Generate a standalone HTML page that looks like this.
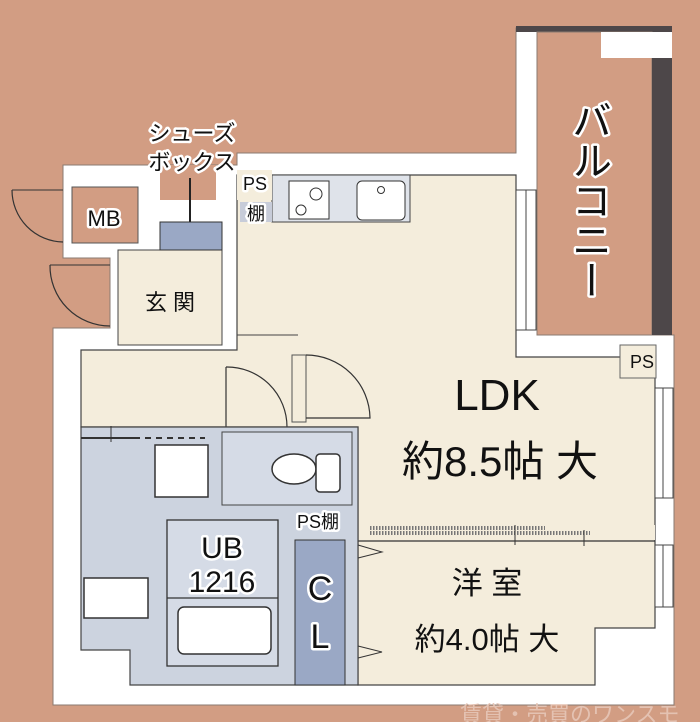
<!DOCTYPE html>
<html><head><meta charset="utf-8"><style>
html,body{margin:0;padding:0;background:#d29d83;}
svg{display:block}
text{font-family:"Liberation Sans","Noto Sans CJK JP",sans-serif;fill:#111;}
.o{stroke:#fff;stroke-width:5;paint-order:stroke;stroke-linejoin:round}
</style></head><body>
<svg width="700" height="722" viewBox="0 0 700 722" xmlns="http://www.w3.org/2000/svg">
<rect width="700" height="722" fill="#d29d83"/>
<!-- building white -->
<polygon points="63,165 237,165 237,153 516,153 516,28 537,28 537,335 674,335 674,705 53,705 53,328 110,328 110,258 63,258" fill="#fff" stroke="#8a7a70" stroke-width="1"/>
<!-- balcony -->
<rect x="516" y="26" width="156" height="6" fill="#4d4749"/>
<rect x="537" y="32" width="115" height="303" fill="#d29d83" stroke="#8a7a70" stroke-width="1"/>
<rect x="652" y="58" width="20" height="277" fill="#4d4749"/>
<rect x="601" y="32" width="71" height="26" fill="#fff"/>
<!-- MB, shoe box -->
<rect x="72" y="187" width="66" height="56" fill="#d29d83" stroke="#555" stroke-width="1"/>
<rect x="160" y="165" width="56" height="35" fill="#d29d83"/>
<line x1="190" y1="178" x2="190" y2="232" stroke="#222" stroke-width="2"/>
<!-- doors entry -->
<path d="M12,190 A52,52 0 0 0 63,242" fill="none" stroke="#333" stroke-width="1.2"/>
<line x1="12" y1="190" x2="63" y2="190" stroke="#333" stroke-width="1"/>
<path d="M50,265 A60,60 0 0 0 110,326" fill="none" stroke="#333" stroke-width="1.2"/>
<line x1="50" y1="265" x2="110" y2="265" stroke="#333" stroke-width="1"/>
<!-- cream areas -->
<polygon points="237,175 516,175 516,357 655,357 655,628 595,628 595,685 358,685 358,427 81,427 81,350 237,350" fill="#f4eddc" stroke="#444" stroke-width="1.2"/>
<rect x="118" y="250" width="104" height="95" fill="#f4eddc" stroke="#444" stroke-width="1"/>
<rect x="160" y="222" width="62" height="28" fill="#9aa8c5" stroke="#333" stroke-width="1"/>
<line x1="237" y1="335" x2="298" y2="335" stroke="#444" stroke-width="1"/>
<rect x="292" y="355" width="14" height="67" fill="#f4eddc" stroke="#555" stroke-width="1"/>
<path d="M306,355 A64,64 0 0 1 370,418 L306,418" fill="none" stroke="#333" stroke-width="1.2"/>
<path d="M226,367 A60,60 0 0 1 287,427" fill="none" stroke="#333" stroke-width="1.2"/>
<line x1="226" y1="367" x2="226" y2="427" stroke="#333" stroke-width="1.2"/>
<!-- kitchen -->
<rect x="272" y="175" width="138" height="47" fill="#dfe3ea" stroke="#444" stroke-width="1"/>
<rect x="237" y="170" width="35" height="30" fill="#f4eddc"/>
<rect x="240" y="202" width="32" height="20" fill="#c7ccd9"/>
<rect x="289" y="181" width="40" height="38" fill="#fff" stroke="#333"/>
<circle cx="316" cy="194" r="6" fill="none" stroke="#333"/><circle cx="301" cy="210" r="5" fill="none" stroke="#333"/>
<rect x="357" y="181" width="48" height="39" rx="5" fill="#fff" stroke="#333"/>
<circle cx="381" cy="190" r="3.5" fill="none" stroke="#333"/>
<!-- windows -->
<g stroke="#444" stroke-width="1" fill="#fff">
<rect x="516" y="190" width="20" height="140"/><line x1="526" y1="190" x2="526" y2="330"/>
<rect x="655" y="388" width="18" height="110"/><line x1="663" y1="388" x2="663" y2="498"/>
<rect x="655" y="545" width="18" height="62"/><line x1="663" y1="545" x2="663" y2="607"/>
</g>
<rect x="620" y="345" width="36" height="33" fill="#f4eddc" stroke="#666" stroke-width="1"/>
<!-- divider -->
<rect x="360" y="525" width="295" height="15" fill="#f4eddc"/>
<line x1="370" y1="528" x2="545" y2="528" stroke="#777" stroke-width="4" stroke-dasharray="1.5,1.5"/>
<line x1="370" y1="533" x2="590" y2="533" stroke="#777" stroke-width="4" stroke-dasharray="1.5,1.5"/>
<line x1="358" y1="541" x2="655" y2="541" stroke="#333" stroke-width="1.2"/>
<line x1="515" y1="525" x2="515" y2="545" stroke="#333"/><line x1="584" y1="530" x2="584" y2="546" stroke="#333"/>
<!-- blue wet area -->
<polygon points="81,427 358,427 358,685 130,685 130,650 81,650" fill="#ccd3df" stroke="#444" stroke-width="1.2"/>
<line x1="81" y1="438" x2="140" y2="438" stroke="#333" stroke-width="2"/>
<line x1="145" y1="438" x2="205" y2="438" stroke="#333" stroke-width="2" stroke-dasharray="6,5"/>
<line x1="111" y1="426" x2="111" y2="442" stroke="#333"/>
<rect x="155" y="445" width="53" height="52" fill="#fff" stroke="#333" stroke-width="1.5"/>
<rect x="222" y="432" width="130" height="73" fill="#d5dbe6" stroke="#444"/>
<ellipse cx="294" cy="469" rx="22" ry="15" fill="#fff" stroke="#333" stroke-width="1.5"/>
<rect x="316" y="454" width="24" height="38" rx="4" fill="#fff" stroke="#333" stroke-width="1.5"/>
<rect x="84" y="578" width="64" height="40" fill="#fff" stroke="#333" stroke-width="1.5"/>
<rect x="167" y="520" width="111" height="146" fill="#d5dbe6" stroke="#333" stroke-width="1.3"/>
<line x1="167" y1="598" x2="278" y2="598" stroke="#333" stroke-width="1.3"/>
<rect x="178" y="607" width="93" height="47" rx="6" fill="#fff" stroke="#333" stroke-width="1.5"/>
<rect x="295" y="540" width="50" height="145" fill="#9aa8c5" stroke="#333" stroke-width="1"/>
<path d="M358,545 L382,552 L358,558 M358,646 L382,652 L358,658" fill="none" stroke="#333"/>
<!-- labels -->
<text x="192" y="141" font-size="22" text-anchor="middle" class="o">シューズ</text>
<text x="192" y="170" font-size="22" text-anchor="middle" class="o">ボックス</text>
<text x="104" y="226" font-size="22" text-anchor="middle" class="o">MB</text>
<text x="255" y="190" font-size="18" text-anchor="middle" class="o">PS</text>
<text x="256" y="220" font-size="18" text-anchor="middle" class="o">棚</text>
<text x="170" y="310" font-size="22" text-anchor="middle">玄 関</text>
<text x="588" y="100" font-size="40" class="o" style="writing-mode:vertical-rl" text-anchor="start">バルコニー</text>
<text x="642" y="368" font-size="18" text-anchor="middle">PS</text>
<text x="497" y="410" font-size="44" text-anchor="middle">LDK</text>
<text x="500" y="476" font-size="42" text-anchor="middle">約8.5帖 大</text>
<text x="222" y="558" font-size="30" text-anchor="middle" class="o">UB</text>
<text x="222" y="592" font-size="30" text-anchor="middle" class="o">1216</text>
<text x="318" y="528" font-size="18" text-anchor="middle" class="o">PS棚</text>
<text x="320" y="600" font-size="34" text-anchor="middle" class="o">C</text>
<text x="320" y="648" font-size="34" text-anchor="middle" class="o">L</text>
<text x="487" y="594" font-size="31" text-anchor="middle">洋 室</text>
<text x="487" y="650" font-size="31" text-anchor="middle">約4.0帖 大</text>
<text x="460" y="722" font-size="22" style="fill:#e4c2b2">賃貸・売買のワンスモ</text>
</svg>
</body></html>
